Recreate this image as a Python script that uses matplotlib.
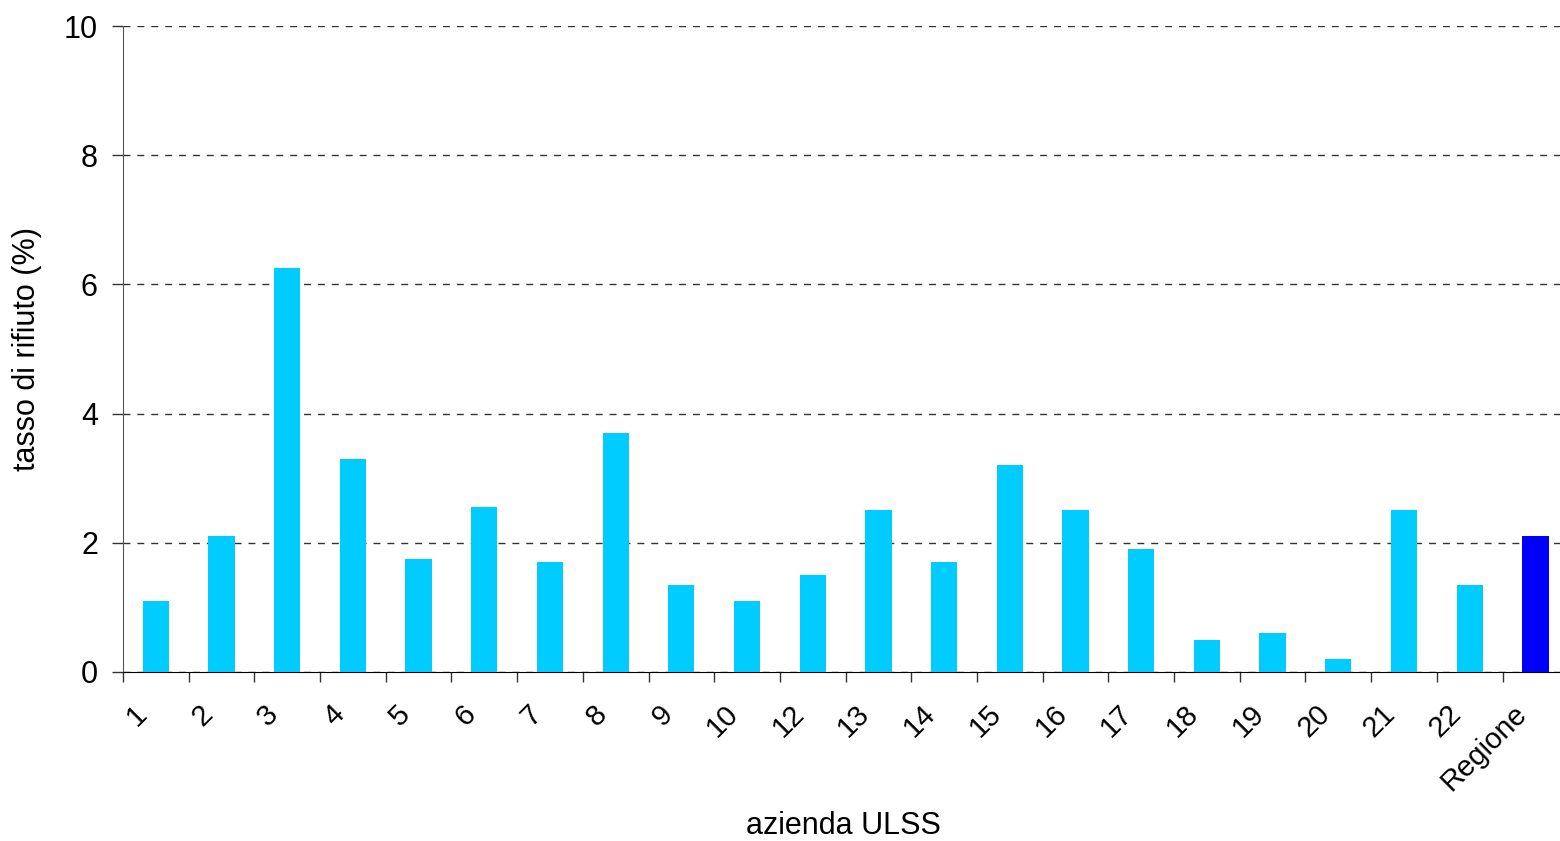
import numpy as np
import matplotlib
matplotlib.use('agg')
import matplotlib.pyplot as plt
import matplotlib.transforms as mtransforms
from matplotlib import rcParams

rcParams['font.family'] = ['Liberation Sans', 'DejaVu Sans']

# refusal rate by ULSS health unit, last bar is the regional figure
aziende = ['1', '2', '3', '4', '5', '6', '7', '8', '9', '10', '12', '13',
           '14', '15', '16', '17', '18', '19', '20', '21', '22', 'Regione']
tasso = [1.1, 2.1, 6.25, 3.3, 1.75, 2.55, 1.7, 3.7, 1.35, 1.1, 1.5, 2.5,
         1.7, 3.2, 2.5, 1.9, 0.5, 0.6, 0.2, 2.5, 1.35, 2.1]
yticks = [0, 2, 4, 6, 8, 10]

fig = plt.figure(figsize=(15.6, 8.41), dpi=100)
# plot area runs slightly past the right border, as in the original export
ax = fig.add_axes([0.0788, 0.201, 0.9265, 0.768])

pos = np.arange(len(aziende))
colors = ['#00CCFF'] * (len(aziende) - 1) + ['#0000FF']
ax.bar(pos, tasso, width=0.4, color=colors, zorder=3)

ax.set_xlim(-0.5, len(aziende) - 0.5)
ax.set_ylim(0, 10)
ax.set_yticks(yticks)
ax.yaxis.grid(True, linestyle=(0, (5, 5)), color='#333333', linewidth=1)
ax.set_axisbelow(True)

# category labels near bar centres, tick marks between categories
ax.set_xticks(pos)
ax.set_xticklabels(aziende, rotation=45, ha='right', va='center',
                   rotation_mode='anchor', fontsize=21)
ax.tick_params(axis='x', which='major', length=0, pad=27)
shift = mtransforms.ScaledTranslation(-0.13, 0, fig.dpi_scale_trans)
for lbl in ax.get_xticklabels():
    lbl.set_transform(lbl.get_transform() + shift)
ax.set_xticks(np.arange(-0.5, len(aziende) - 0.5), minor=True)
ax.tick_params(axis='x', which='minor', length=7, width=1, color='#333333')
ax.tick_params(axis='y', length=8, width=1, color='#333333', labelsize=22, pad=10)

for s in ['top', 'right']:
    ax.spines[s].set_visible(False)
ax.spines['left'].set_color('#555555')
ax.spines['bottom'].set_color('#000000')

ax.set_xlabel('azienda ULSS', fontsize=22)
ax.xaxis.set_label_coords(0.4985, -0.215)
ax.set_ylabel('tasso di rifiuto (%)', fontsize=22, labelpad=16)

fig.savefig('out.png', dpi=100)
